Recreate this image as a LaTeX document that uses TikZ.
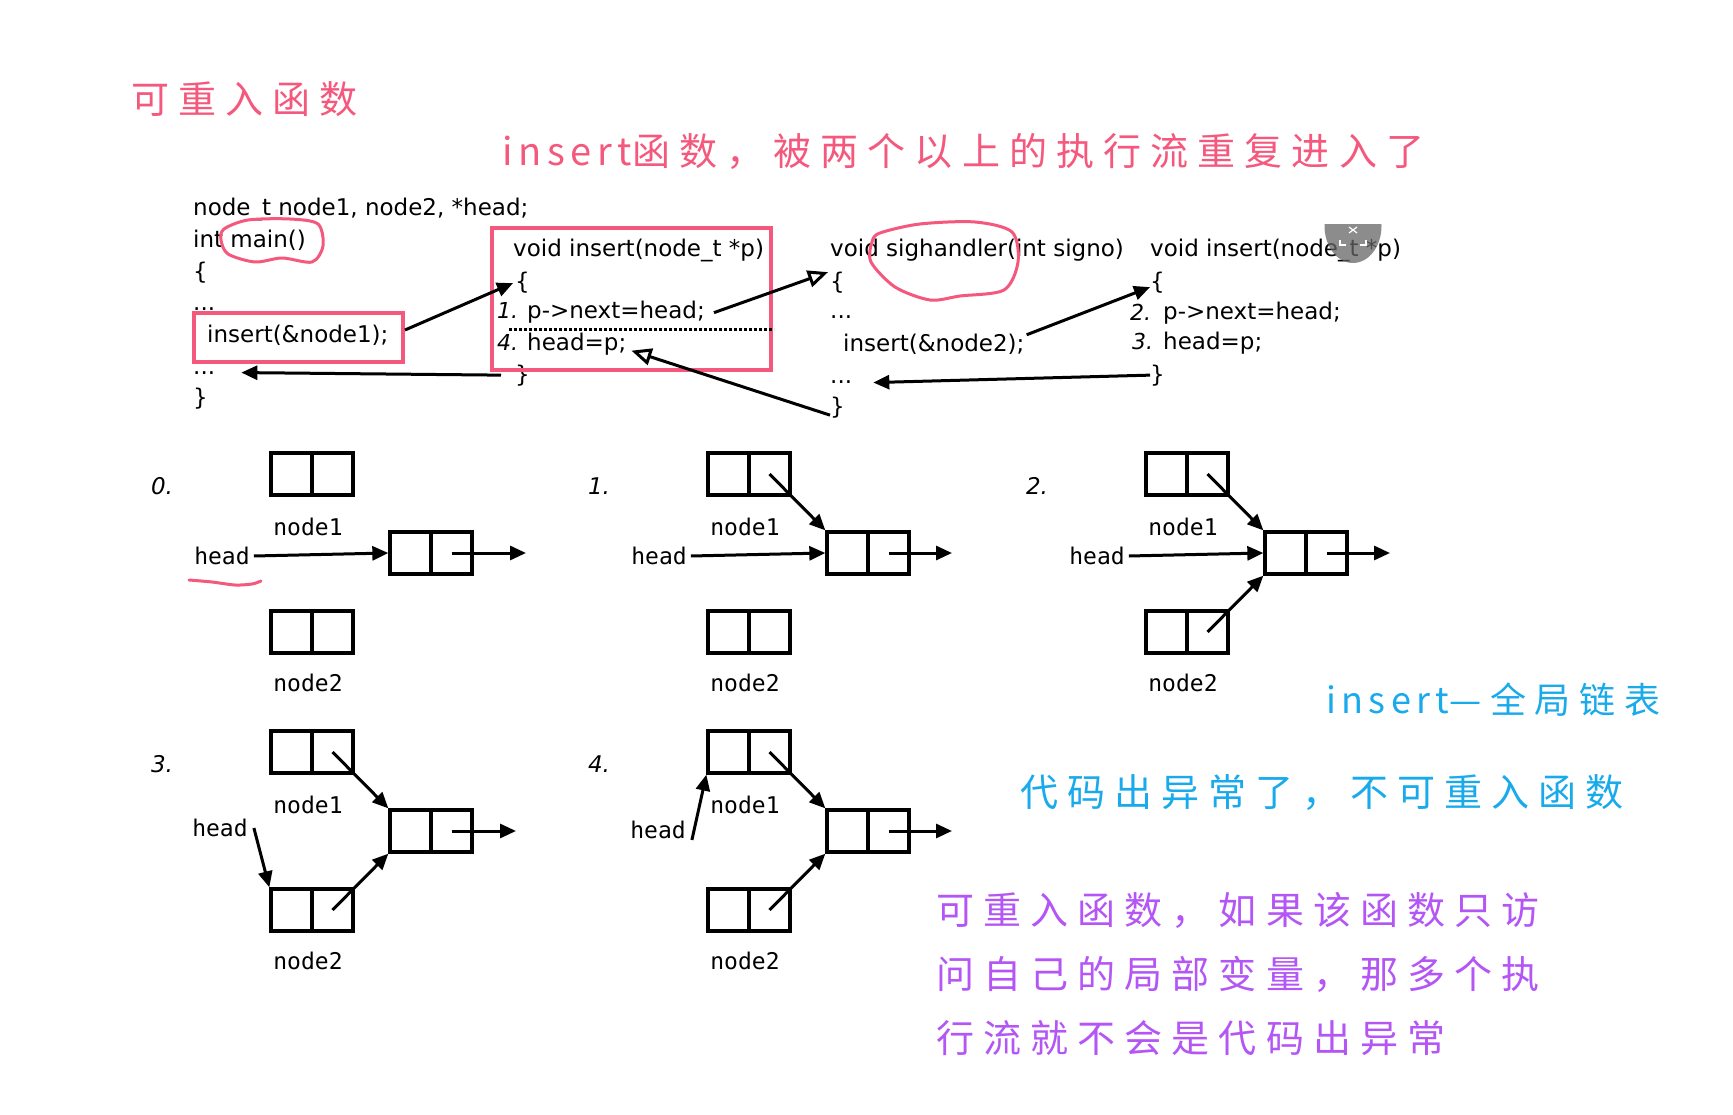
\documentclass[tikz,border=0pt]{standalone}
\usepackage{fontspec}
\setmainfont{DejaVu Sans}
\newfontfamily\codef{DejaVu Sans}
\newfontfamily\monof{DejaVu Sans Mono}
\newfontfamily\hwf[LetterSpace=24]{Noto Sans CJK SC}
\newfontfamily\hwl[LetterSpace=15]{Noto Sans CJK SC}
\usetikzlibrary{arrows.meta}
\definecolor{pinkc}{RGB}{245,88,125}
\definecolor{bluec}{RGB}{25,170,235}
\definecolor{purplec}{RGB}{180,85,245}
\tikzset{
  code/.style={anchor=base west, inner sep=0pt, font=\codef\fontsize{23}{27}\selectfont},
  codenum/.style={anchor=base west, inner sep=0pt, font=\codef\itshape\fontsize{22}{27}\selectfont},
  numl/.style={inner sep=0pt, font=\codef\itshape\fontsize{23}{27}\selectfont},
  hw/.style={anchor=base west, inner sep=0pt, font=\hwf\fontsize{38}{44}\selectfont},
  cell/.style={draw, line width=3.3pt, minimum width=82pt, minimum height=42pt, inner sep=0pt,
    path picture={\draw[line width=3.3pt] (path picture bounding box.north) -- (path picture bounding box.south);}},
  lbl/.style={inner sep=0pt, font=\monof\fontsize{23}{27}\selectfont},
  arr/.style={line width=3pt, -{Triangle[length=16pt,width=14pt]}},
  oarr/.style={line width=3pt, -{Triangle[open,length=20pt,width=17pt,line width=3pt]}},
  pinkbox/.style={draw=pinkc, line width=4pt, inner sep=0pt},
  pinkline/.style={draw=pinkc, line width=3pt, line cap=round, line join=round},
}
\newcommand{\lldiag}[5]{%
  \node[cell] (a#1) at ({312+#2},{474+#3}) {};
  \node[cell] (b#1) at ({312+#2},{632+#3}) {};
  \node[cell] (l#1) at ({431+#2},{553+#3}) {};
  \node[lbl] (la#1) at ({308+#2},{527+#3}) {node1};
  \node[lbl] (lb#1) at ({308+#2},{683+#3}) {node2};
  \node[numl] (num#1) at ({162+#2},{486+#3}) {#4};
  \coordinate (o#1) at ({#5+#2},{553+#3});
  \draw[arr] ([xshift=20.5pt]l#1.center) -- (o#1);
}
\begin{document}
\begin{tikzpicture}[x=1pt,y=-1pt]
\fill[white] (0,0) rectangle (1733,1115);
\useasboundingbox (0,0) rectangle (1733,1115);

% handwritten notes
\node[hw, text=pinkc] (t1) at (131,114) {可重入函数};
\node[hw, text=pinkc] (t2) at (502,166) {{\hwl insert}函数，被两个以上的执行流重复进入了};
\node[hw, text=bluec, font=\hwf\fontsize{36}{44}\selectfont] (t3) at (1326,713) {{\hwl insert}—全局链表};
\node[hw, text=bluec] (t4) at (1020,806) {代码出异常了，不可重入函数};
\node[hw, text=purplec] (t5) at (936,924) {可重入函数，如果该函数只访};
\node[hw, text=purplec] (t6) at (936,988) {问自己的局部变量，那多个执};
\node[hw, text=purplec] (t7) at (936,1052) {行流就不会是代码出异常};

% code column 1
\node[code] (c1a) at (193,216) {node\_t node1, node2, *head;};
\node[code] (c1b) at (193,248) {int main()};
\node[code] (c1c) at (193,280) {\{};
\node[code] (c1d) at (193,311) {...};
\node[code] (c1e) at (207,343) {insert(\&node1);};
\node[code] (c1f) at (193,374) {...};
\node[code] (c1g) at (193,405) {\}};
% code column 2
\node[code] (c2a) at (513,257) {void insert(node\_t *p)};
\node[code] (c2b) at (515,290) {\{};
\node[codenum] (c2n1) at (497,319) {1.};
\node[code] (c2c) at (527,319) {p->next=head;};
\node[codenum] (c2n4) at (497,351) {4.};
\node[code] (c2d) at (527,351) {head=p;};
\node[code] (c2e) at (515,382) {\}};
% code column 3
\node[code] (c3a) at (830,257) {void sighandler(int signo)};
\node[code] (c3b) at (830,290) {\{};
\node[code] (c3c) at (830,319) {...};
\node[code] (c3d) at (843,352) {insert(\&node2);};
\node[code] (c3e) at (830,384) {...};
\node[code] (c3f) at (830,414) {\}};
% code column 4
\node[code] (c4a) at (1150,257) {void insert(node\_t *p)};
\node[code] (c4b) at (1150,290) {\{};
\node[codenum] (c4n2) at (1130,321) {2.};
\node[code] (c4c) at (1163,320) {p->next=head;};
\node[codenum] (c4n3) at (1132,350) {3.};
\node[code] (c4d) at (1163,350) {head=p;};
\node[code] (c4e) at (1150,382) {\}};

% grey overlay badge
\begin{scope}
  \clip (1318,225) rectangle (1390,270);
  \fill[gray!80!black, opacity=0.75] (1353,226) ellipse [x radius=28.5, y radius=37];
\end{scope}
\draw[white, line width=1.2pt] (1349,227) -- (1357,233) (1349,233) -- (1357,227);
\draw[white, line width=1.2pt] (1340,240) -- (1340,245) -- (1346,245) (1366,240) -- (1366,245) -- (1360,245);

% pink boxes
\node[pinkbox, minimum width=209pt, minimum height=49pt] (box1) at (298.5,337.5) {};
\node[pinkbox, minimum width=279pt, minimum height=142pt] (box2) at (631.5,299) {};
\draw[line width=3pt, dash pattern=on 2.5pt off 2.5pt] (509,330) -- (774,330);

% pink hand loops
\draw[pinkline] plot[smooth cycle] coordinates {(224,229) (248,220) (290,219) (318,224) (323,246) (312,262) (282,258) (255,262) (228,254) (221,240)};
\draw[pinkline] plot[smooth cycle] coordinates {(880,233) (920,224) (975,222) (1012,232) (1018,262) (1004,290) (960,296) (930,300) (895,287) (871,262) (872,242)};

% code arrows
\draw[arr] ([yshift=7.5pt]box1.east) -- ([xshift=-2pt]c2b.west);
\draw[arr] ([xshift=-14pt]c2e.west) -- ([xshift=26pt]c1f.east);
\draw[oarr] ([xshift=9pt]c2c.east) -- ([xshift=-2pt,yshift=11pt]c3b.west);
\draw[oarr] ([yshift=-8pt]c3f.west) -- ([xshift=5pt,yshift=-6pt]c2d.east);
\draw[arr] ([xshift=2pt,yshift=10pt]c3d.east) -- ([yshift=-4pt]c4b.west);
\draw[arr] (c4e.west) -- ([xshift=21pt]c3e.east);

% linked list diagrams
\lldiag{0}{0}{0}{0.}{526}
\lldiag{1}{437}{0}{1.}{515}
\lldiag{2}{875}{0}{2.}{515}
\lldiag{3}{0}{278}{3.}{516}
\lldiag{4}{437}{278}{4.}{515}

\node[lbl] (h0) at (222,556) {head};
\node[lbl] (h1) at (659,556) {head};
\node[lbl] (h2) at (1097,556) {head};
\node[lbl] (h3) at (220,828) {head};
\node[lbl] (h4) at (658,830) {head};

\draw[arr] ([xshift=4pt]h0.east) -- (l0.west);
\draw[arr] ([xshift=4pt]h1.east) -- (l1.west);
\draw[arr] ([xshift=4pt]h2.east) -- (l2.west);
\draw[arr] ([xshift=6pt]h3.east) -- (b3.north west);
\draw[arr] ([xshift=6pt,yshift=-10pt]h4.east) -- (a4.south west);

\draw[arr] ([xshift=20.5pt]a1.center) -- (l1.north west);
\draw[arr] ([xshift=20.5pt]a2.center) -- (l2.north west);
\draw[arr] ([xshift=20.5pt]b2.center) -- (l2.south west);
\draw[arr] ([xshift=20.5pt]a3.center) -- (l3.north west);
\draw[arr] ([xshift=20.5pt]b3.center) -- (l3.south west);
\draw[arr] ([xshift=20.5pt]a4.center) -- (l4.north west);
\draw[arr] ([xshift=20.5pt]b4.center) -- (l4.south west);

% pink underline under head (diagram 0)
\draw[pinkline] plot[smooth] coordinates {(189,580) (212,582) (235,585) (252,584) (261,581)};
\end{tikzpicture}
\end{document}
